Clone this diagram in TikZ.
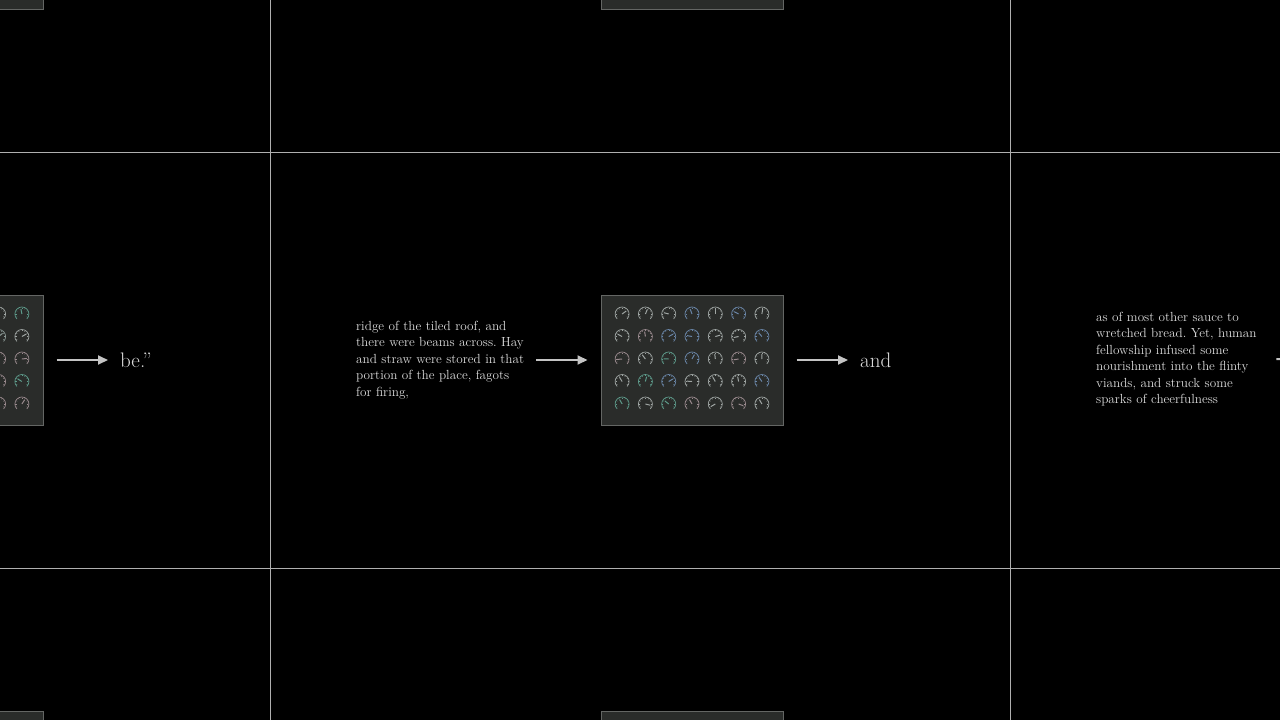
\documentclass[tikz,border=0pt]{standalone}
\usetikzlibrary{arrows.meta}
\definecolor{gridc}{HTML}{B0B0B0}
\definecolor{txtc}{HTML}{DCDCDC}
\definecolor{arrc}{HTML}{C4C4C4}
\definecolor{panelfill}{HTML}{2A2C2A}
\definecolor{panelline}{HTML}{646664}
\definecolor{gA}{HTML}{A0A6A4}
\definecolor{gB}{HTML}{5E9C8C}
\definecolor{gC}{HTML}{6A86A8}
\definecolor{gD}{HTML}{8C9A96}
\definecolor{gE}{HTML}{9A8A8E}
\tikzset{
  gridline/.style={draw=gridc, line width=1pt},
  panel/.style={draw=panelline, fill=panelfill, line width=1pt,
    minimum width=182pt, minimum height=130pt, inner sep=0pt},
  para/.style={text=txtc, text width=170pt, align=left, inner sep=0pt,
    font=\fontsize{13.2}{16.5}\selectfont\frenchspacing},
  word/.style={text=txtc, inner sep=0pt, font=\fontsize{21}{25}\selectfont},
  arr/.style={draw=arrc, line width=2pt, -{Triangle[length=10pt,width=9pt]}},
}
\newcommand\gaugeat[4]{%
  \begin{scope}[shift={(#1,#2)}, draw=#4, line width=0.7pt]
    \draw (135:7) arc[start angle=135, end angle=405, radius=7];
    \foreach \a in {150,180,...,390} \draw[line width=0.4pt] (\a:5.4) -- (\a:6.5);
    \draw[line width=1pt] (0,0) -- (#3:5);
  \end{scope}}
\newcommand\panelat[3]{%
  \node[panel] (#1) at (#2,#3) {};
  \foreach \i in {0,...,6}{
    \foreach \j in {0,...,4}{
      \pgfmathsetmacro\gx{#2+(\i-3)*23.3}%
      \pgfmathsetmacro\gy{#3-1+(\j-2)*22.5}%
      \pgfmathrandominteger{\ang}{150}{390}%
      \pgfmathrandominteger{\ci}{0}{6}%
      \edef\gc{\ifcase\ci gA\or gA\or gA\or gB\or gC\or gD\or gE\else gA\fi}%
      \gaugeat{\gx}{\gy}{\ang}{\gc}
    }}}
\begin{document}
\begin{tikzpicture}[x=1pt,y=-1pt]
\pgfmathsetseed{11}
\useasboundingbox (0,0) rectangle (1280,720);
\fill[black] (0,0) rectangle (1280,720);
\clip (0,0) rectangle (1280,720);
% grid
\draw[gridline] (270,0) -- (270,720);
\draw[gridline] (1010,0) -- (1010,720);
\draw[gridline] (0,152) -- (1280,152);
\draw[gridline] (0,568) -- (1280,568);
% panels
\panelat{C}{692}{360}
\panelat{L}{-48}{360}
\panelat{T}{692}{-56}
\panelat{TL}{-48}{-56}
\panelat{B}{692}{776}
\panelat{BL}{-48}{776}
\node[panel] (R) at (1432,360) {};
% texts
\node[para, anchor=west] (t1) at (356,360) {ridge of the tiled roof, and\\there were beams across. Hay\\and straw were stored in that\\portion of the place, fagots\\for firing,};
\node[para, anchor=west] (t2) at (1096,359) {as of most other sauce to\\wretched bread. Yet, human\\fellowship infused some\\nourishment into the flinty\\viands, and struck some\\sparks of cheerfulness};
\node[word, anchor=west] (w1) at (860,360) {and};
\node[word, anchor=west] (w0) at (120,360) {be.”};
% arrows
\draw[arr, shorten <=10pt, shorten >=13pt] (t1.east) -- (C.west);
\draw[arr, shorten <=13pt, shorten >=12pt] (C.east) -- (w1.west);
\draw[arr, shorten <=13pt, shorten >=12pt] (L.east) -- (w0.west);
\draw[arr, shorten <=10pt, shorten >=13pt] (t2.east) -- (R.west);
\end{tikzpicture}
\end{document}
